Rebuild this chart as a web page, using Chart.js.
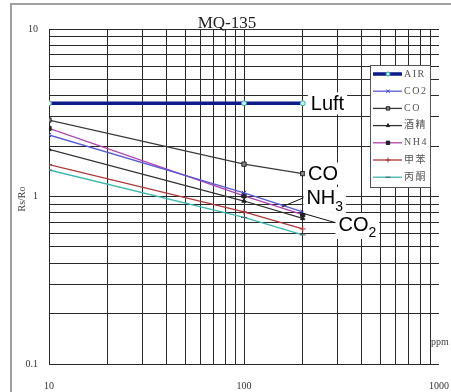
<!DOCTYPE html>
<html>
<head>
<meta charset="utf-8">
<script src="https://cdn.jsdelivr.net/npm/chart.js@4.4.1/dist/chart.umd.min.js"></script>
<style>
  html, body { margin: 0; padding: 0; background: #fff; }
  #wrap { width: 451px; height: 392px; }
  canvas { display: block; }
</style>
</head>
<body>
<div id="wrap"><canvas id="c" width="451" height="392"></canvas></div>
<script>
// Gas concentration (ppm) where each curve is sampled
const ppm = [10, 100, 200];

// Rs/Ro sensitivity curves, one array per gas
const air     = [3.6, 3.6, 3.6];
const co2     = [2.33, 1.05, 0.81];
const co      = [2.86, 1.56, 1.37];
const alcohol = [1.91, 0.94, 0.74];
const nh4     = [2.55, 1.01, 0.78];
const toluene = [1.55, 0.81, 0.64];
const acetone = [1.44, 0.75, 0.59];

const seriesNames = ['AIR', 'CO2', 'CO', '酒精', 'NH4', '甲苯', '丙酮'];

// Log-paper grid lines and labelled decades
const xGrid = [10, 20, 30, 40, 50, 60, 70, 80, 90, 100, 200, 300, 400, 500, 600, 700, 800, 900, 1000];
const yGrid = [0.1, 0.2, 0.3, 0.4, 0.5, 0.6, 0.7, 0.8, 0.9, 1, 2, 3, 4, 5, 6, 7, 8, 9, 10];
const xTickLabels = [10, 100, 1000];
const yTickLabels = [0.1, 1, 10];

// Curve call-outs (data coordinates)
const callouts = [
  { text: 'Luft', sub: '',  x: 220, y: 3.6 },
  { text: 'CO',   sub: '',  x: 213, y: 1.37 },
  { text: 'NH',   sub: '3', x: 209, y: 0.98 },
  { text: 'CO',   sub: '2', x: 305, y: 0.685 }
];
const leaders = [
  { from: [156, 0.866], to: [205, 0.99] },
  { from: [198, 0.797], to: [298, 0.695] }
];

function pts(vals) { return ppm.map((x, i) => ({ x: x, y: vals[i] })); }

const styles = [
  { color: '#0c1a8a', width: 3.5, point: 'circle',   r: 2.5, bg: '#c8f0f0', bd: '#3aa' },
  { color: '#5a5ad6', width: 1.3, point: 'crossRot', r: 3,   bg: '#4040c0', bd: '#4040c0' },
  { color: '#3a3a3a', width: 1.3, point: 'rect',     r: 3,   bg: '#888',    bd: '#222' },
  { color: '#333333', width: 1.3, point: 'triangle', r: 2.5, bg: '#222',    bd: '#222' },
  { color: '#b040b0', width: 1.3, point: 'rect',     r: 3,   bg: '#222',    bd: '#222' },
  { color: '#b03838', width: 1.3, point: 'cross',    r: 3,   bg: '#a33',    bd: '#a33' },
  { color: '#3cb8b0', width: 1.3, point: 'line',     r: 3,   bg: '#555',    bd: '#555' }
];
const seriesValues = [air, co2, co, alcohol, nh4, toluene, acetone];

const datasets = seriesNames.map((name, i) => ({
  label: name,
  data: pts(seriesValues[i]),
  borderColor: styles[i].color,
  borderWidth: styles[i].width,
  pointStyle: styles[i].point,
  pointRadius: styles[i].r,
  pointBackgroundColor: styles[i].bg,
  pointBorderColor: styles[i].bd,
  pointBorderWidth: 1,
  tension: 0,
  fill: false
}));

const serif = '"Liberation Serif", "Noto Sans CJK SC", serif';
const sans = '"Liberation Sans", Arial, sans-serif';

// Outer gray frame
const framePlugin = {
  id: 'frame',
  beforeDraw(chart) {
    const ctx = chart.ctx;
    ctx.save();
    ctx.fillStyle = '#fff';
    ctx.fillRect(0, 0, chart.width, chart.height);
    ctx.strokeStyle = '#a0a0a0';
    ctx.lineWidth = 2;
    ctx.beginPath();
    ctx.moveTo(chart.width + 2, 4);
    ctx.lineTo(11, 4);
    ctx.lineTo(11, chart.height + 2);
    ctx.stroke();
    ctx.restore();
  }
};

// Title, axis captions, call-outs and the boxed legend
const overlayPlugin = {
  id: 'overlay',
  afterDraw(chart) {
    const ctx = chart.ctx;
    const xs = chart.scales.x, ys = chart.scales.y;
    ctx.save();

    // Title
    ctx.fillStyle = '#222';
    ctx.font = '17px ' + serif;
    ctx.textAlign = 'center';
    ctx.textBaseline = 'alphabetic';
    ctx.fillText('MQ-135', 227, 28);

    // Y axis caption
    ctx.save();
    ctx.translate(22, 199);
    ctx.rotate(-Math.PI / 2);
    ctx.font = '10px ' + serif;
    ctx.fillStyle = '#444';
    ctx.textAlign = 'center';
    ctx.textBaseline = 'middle';
    ctx.fillText('Rs/Ro', 0, 0);
    ctx.restore();

    // Unit caption
    ctx.font = '10px ' + serif;
    const uw = ctx.measureText('ppm').width;
    ctx.fillStyle = '#fff';
    ctx.fillRect(431, 335, uw + 2, 13);
    ctx.fillStyle = '#444';
    ctx.textAlign = 'left';
    ctx.textBaseline = 'middle';
    ctx.fillText('ppm', 431, 342);

    // Leader lines
    ctx.strokeStyle = '#111';
    ctx.lineWidth = 1;
    leaders.forEach(l => {
      ctx.beginPath();
      ctx.moveTo(xs.getPixelForValue(l.from[0]), ys.getPixelForValue(l.from[1]));
      ctx.lineTo(xs.getPixelForValue(l.to[0]), ys.getPixelForValue(l.to[1]));
      ctx.stroke();
    });

    // Call-out labels
    callouts.forEach(c => {
      const px = xs.getPixelForValue(c.x);
      const py = ys.getPixelForValue(c.y);
      ctx.font = '20px ' + sans;
      const mw = ctx.measureText(c.text).width;
      ctx.font = '14px ' + sans;
      const sw = c.sub ? ctx.measureText(c.sub).width : 0;
      ctx.fillStyle = '#fff';
      ctx.fillRect(px - 3, py - 11, mw + sw + 6, c.sub ? 26 : 22);
      ctx.fillStyle = '#000';
      ctx.textAlign = 'left';
      ctx.textBaseline = 'middle';
      ctx.font = '20px ' + sans;
      ctx.fillText(c.text, px, py + 1);
      if (c.sub) {
        ctx.font = '14px ' + sans;
        ctx.fillText(c.sub, px + mw, py + 9);
      }
    });

    // Legend box
    const lx = 370, ly = 65, lw = 60, lh = 122;
    ctx.fillStyle = '#fff';
    ctx.fillRect(lx, ly, lw, lh);
    ctx.strokeStyle = '#555';
    ctx.lineWidth = 1;
    ctx.strokeRect(lx + 0.5, ly + 0.5, lw, lh);
    chart.data.datasets.forEach((ds, i) => {
      const y = 74 + i * 17.2;
      ctx.strokeStyle = ds.borderColor;
      ctx.lineWidth = ds.borderWidth;
      ctx.beginPath();
      ctx.moveTo(373, y);
      ctx.lineTo(402, y);
      ctx.stroke();
      if (Chart.helpers && Chart.helpers.drawPoint) {
        ctx.fillStyle = ds.pointBackgroundColor;
        ctx.strokeStyle = ds.pointBorderColor;
        ctx.lineWidth = 1;
        Chart.helpers.drawPoint(ctx, { pointStyle: ds.pointStyle, radius: ds.pointRadius * 0.8, rotation: 0, borderWidth: 1 }, 388, y);
      }
      ctx.fillStyle = '#555';
      ctx.font = '10px ' + serif;
      ctx.textAlign = 'left';
      ctx.textBaseline = 'middle';
      if ('letterSpacing' in ctx) ctx.letterSpacing = '1.5px';
      ctx.fillText(ds.label, 404, y);
      if ('letterSpacing' in ctx) ctx.letterSpacing = '0px';
    });

    ctx.restore();
  }
};

const gridColor = (c) => (c.tick && c.tick.value === 1000) ? 'rgba(0,0,0,0)' : '#2a2a2a';

new Chart(document.getElementById('c'), {
  type: 'line',
  data: { datasets: datasets },
  options: {
    responsive: false,
    animation: false,
    devicePixelRatio: 1,
    layout: { padding: { left: 0, top: 29, right: 12, bottom: 0 } },
    plugins: {
      legend: { display: false },
      title: { display: false },
      tooltip: { enabled: false }
    },
    scales: {
      x: {
        type: 'logarithmic',
        min: 10,
        max: 1000,
        afterBuildTicks: (s) => { s.ticks = xGrid.map(v => ({ value: v })); },
        afterFit: (s) => { s.height = 28; s.paddingLeft = 0; s.paddingRight = 0; },
        border: { display: false },
        grid: { color: gridColor, lineWidth: 1, drawTicks: false },
        ticks: {
          autoSkip: false,
          maxRotation: 0,
          padding: 16,
          color: '#333',
          font: { family: serif, size: 10 },
          callback: (v) => xTickLabels.includes(v) ? String(v) : ''
        }
      },
      y: {
        type: 'logarithmic',
        min: 0.1,
        max: 10,
        afterBuildTicks: (s) => { s.ticks = yGrid.map(v => ({ value: v })); },
        afterFit: (s) => { s.width = 49; s.paddingTop = 0; s.paddingBottom = 0; },
        border: { display: false },
        grid: { color: '#2a2a2a', lineWidth: 1, drawTicks: false },
        ticks: {
          autoSkip: false,
          padding: 11,
          color: '#333',
          font: { family: serif, size: 10 },
          callback: (v) => yTickLabels.includes(v) ? String(v) : ''
        }
      }
    }
  },
  plugins: [framePlugin, overlayPlugin]
});
</script>
</body>
</html>
